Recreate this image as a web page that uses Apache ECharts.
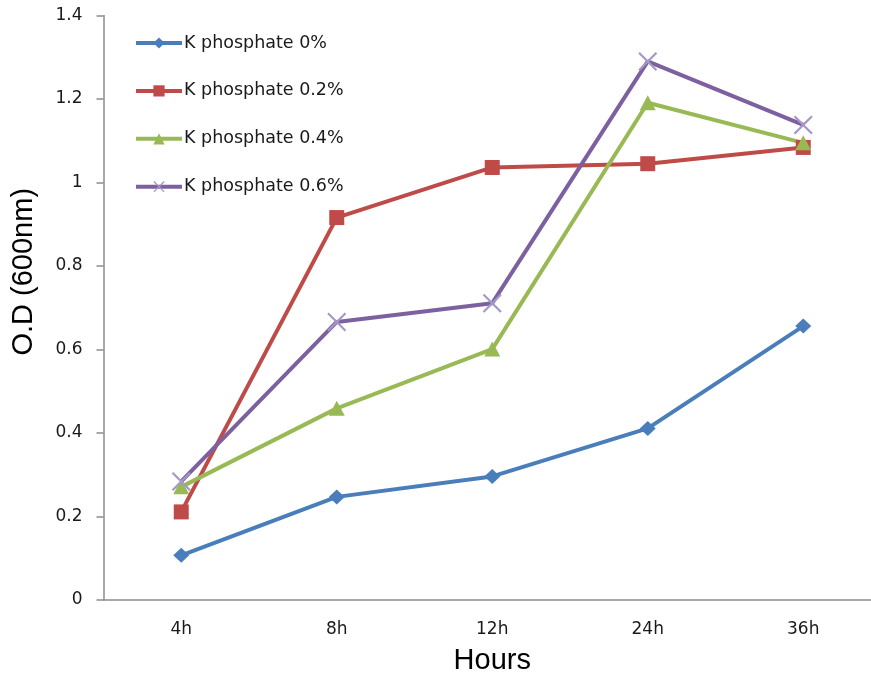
<!DOCTYPE html>
<html>
<head>
<meta charset="utf-8">
<script src="https://cdn.jsdelivr.net/npm/echarts@6/dist/echarts.min.js"></script>
<style>html,body{margin:0;padding:0;background:#fff;}#c{width:871px;height:677px;}</style>
</head>
<body>
<div id="c"></div>
<script>
var categories = ['4h', '8h', '12h', '24h', '36h'];
var seriesNames = ['K phosphate 0%', 'K phosphate 0.2%', 'K phosphate 0.4%', 'K phosphate 0.6%'];
var k0 = [0.107, 0.247, 0.296, 0.411, 0.656];
var k02 = [0.211, 0.916, 1.036, 1.045, 1.084];
var k04 = [0.271, 0.459, 0.601, 1.191, 1.095];
var k06 = [0.284, 0.666, 0.711, 1.290, 1.138];
var yTicks = { min: 0, max: 1.4, interval: 0.2 };

var xPath = 'path://M0,1.6L1.6,0L10,8.4L18.4,0L20,1.6L11.6,10L20,18.4L18.4,20L10,11.6L1.6,20L0,18.4L8.4,10Z';
var colors = ['#4a7ebb', '#be4b48', '#98b954', '#7d60a0'];
var symbols = ['diamond', 'rect', 'triangle', xPath];
var sizes = [[16, 15], [15, 15], [16, 15], [19, 19]];
var symColors = ['#4a7ebb', '#be4b48', '#98b954', '#a597c8'];
var dataSets = [k0, k02, k04, k06];

var chart = echarts.init(document.getElementById('c'), null, { renderer: 'canvas' });
var font = 'DejaVu Sans';
chart.setOption({
  animation: false,
  backgroundColor: '#fff',
  grid: { left: 103.5, right: -10, top: 15.5, bottom: 77, containLabel: false, outerBoundsMode: 'none' },
  legend: {
    orient: 'vertical', left: 134, top: 34, padding: 0, itemWidth: 46, itemHeight: 14, itemGap: 29.9,
    textStyle: { fontFamily: font, fontSize: 17.5, color: '#1a1a1a', padding: [0, 0, 0, -3] },
    lineStyle: { width: 4 },
    data: seriesNames
  },
  xAxis: {
    type: 'category', data: categories,
    name: 'Hours', nameLocation: 'middle', nameGap: 46,
    nameTextStyle: { fontFamily: 'Liberation Sans', fontSize: 29, color: '#000' },
    axisLine: { lineStyle: { color: '#8c8c8c', width: 1.5 } },
    axisTick: { length: 6, lineStyle: { color: '#8c8c8c', width: 1.5 } },
    axisLabel: { fontFamily: font, fontSize: 17, color: '#1a1a1a', margin: 21 }
  },
  yAxis: {
    type: 'value', min: yTicks.min, max: yTicks.max, interval: yTicks.interval,
    name: 'O.D (600nm)', nameLocation: 'middle', nameGap: 65,
    nameTextStyle: { fontFamily: 'Liberation Sans', fontSize: 29, color: '#000', padding: [0, 0, 0, 72] },
    axisLine: { show: true, lineStyle: { color: '#8c8c8c', width: 1.5 } },
    axisTick: { show: true, length: 7, lineStyle: { color: '#8c8c8c', width: 1.5 } },
    splitLine: { show: false },
    axisLabel: { fontFamily: font, fontSize: 17, color: '#1a1a1a', margin: 21 }
  },
  series: seriesNames.map(function (n, i) {
    return {
      name: n, type: 'line', data: dataSets[i],
      symbol: symbols[i], symbolSize: sizes[i], showSymbol: true,
      lineStyle: { color: colors[i], width: 4 },
      itemStyle: { color: symColors[i] },
      emphasis: { disabled: true }
    };
  })
});
</script>
</body>
</html>
